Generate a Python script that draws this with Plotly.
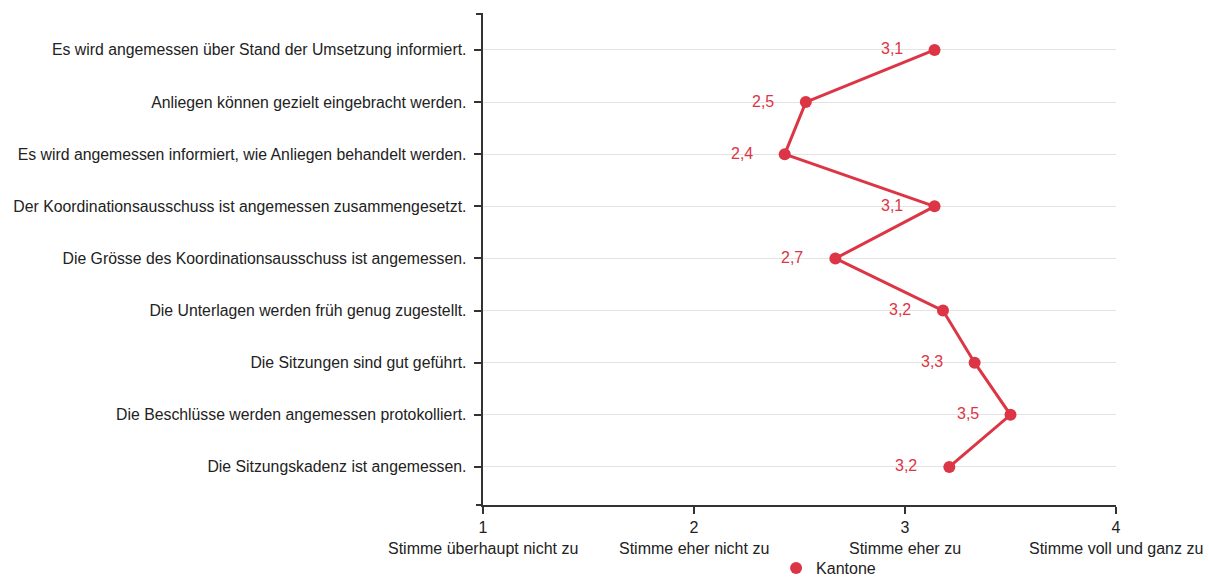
import plotly.graph_objects as go

# survey statements (top to bottom) and mean agreement, canton respondents
statements = [
    "Es wird angemessen über Stand der Umsetzung informiert.",
    "Anliegen können gezielt eingebracht werden.",
    "Es wird angemessen informiert, wie Anliegen behandelt werden.",
    "Der Koordinationsausschuss ist angemessen zusammengesetzt.",
    "Die Grösse des Koordinationsausschuss ist angemessen.",
    "Die Unterlagen werden früh genug zugestellt.",
    "Die Sitzungen sind gut geführt.",
    "Die Beschlüsse werden angemessen protokolliert.",
    "Die Sitzungskadenz ist angemessen.",
]
kantone = [3.14, 2.53, 2.43, 3.14, 2.67, 3.18, 3.33, 3.50, 3.21]

scale_values = [1, 2, 3, 4]
scale_labels = [
    "Stimme überhaupt nicht zu",
    "Stimme eher nicht zu",
    "Stimme eher zu",
    "Stimme voll und ganz zu",
]

RED = "#dc3545"
AXIS = "#333333"
TEXT = "#222222"
FONT = "Liberation Sans, Arial, sans-serif"

fig = go.Figure()

fig.add_trace(
    go.Scatter(
        x=kantone,
        y=statements,
        mode="lines+markers",
        name="Kantone",
        line=dict(color=RED, width=3),
        marker=dict(color=RED, size=12),
        showlegend=False,
        hoverinfo="x+y",
    )
)
# legend entry shows just the dot
fig.add_trace(
    go.Scatter(
        x=[None], y=[None], mode="markers", name="Kantone",
        marker=dict(color=RED, size=12),
    )
)

# value labels left of each point
for v, s in zip(kantone, statements):
    fig.add_annotation(
        x=v, y=s, xref="x", yref="y",
        text=f"{v:.1f}".replace(".", ","),
        showarrow=False, xanchor="right", xshift=-30, yshift=1,
        font=dict(color=RED, size=16, family=FONT),
    )

# descriptive scale labels below the numeric ticks
for v, lab in zip(scale_values, scale_labels):
    fig.add_annotation(
        x=v, y=0, xref="x", yref="paper",
        text=lab, showarrow=False, yanchor="top", yshift=-33,
        font=dict(color=TEXT, size=16, family=FONT),
    )

# outer end ticks of y axis
for yy in (0, 1):
    fig.add_shape(
        type="line", xref="paper", yref="paper",
        x0=-0.011, x1=0, y0=yy, y1=yy,
        line=dict(color=AXIS, width=2),
    )

fig.update_layout(
    width=1209,
    height=577,
    margin=dict(l=483, r=93, t=14, b=72),
    paper_bgcolor="white",
    plot_bgcolor="white",
    font=dict(family=FONT, size=16, color=TEXT),
    showlegend=True,
    legend=dict(
        orientation="h", x=0.463, xanchor="left",
        yref="container", y=0.045, yanchor="top",
        font=dict(size=16, color=TEXT, family=FONT),
    ),
    xaxis=dict(
        range=[1, 4],
        tickvals=scale_values,
        ticktext=[str(v) for v in scale_values],
        showline=True, linecolor=AXIS, linewidth=2,
        ticks="outside", ticklen=7, tickwidth=2, tickcolor=AXIS,
        showgrid=False, zeroline=False, automargin=False,
        tickfont=dict(size=16, color=TEXT),
    ),
    yaxis=dict(
        type="category",
        categoryorder="array",
        categoryarray=statements,
        range=[len(statements) - 1 + 0.73, -0.69],
        showline=True, linecolor=AXIS, linewidth=2,
        ticks="outside", ticklen=7, tickwidth=2, tickcolor=AXIS,
        showgrid=True, gridcolor="#e3e3e3", gridwidth=1,
        zeroline=False, automargin=False,
        ticksuffix=" ",
        tickfont=dict(size=15.8, color=TEXT),
    ),
)

fig.write_html(
    "out.html",
    config={"displayModeBar": False},
    post_script="document.body.style.margin='0';document.body.style.overflow='hidden';",
)
